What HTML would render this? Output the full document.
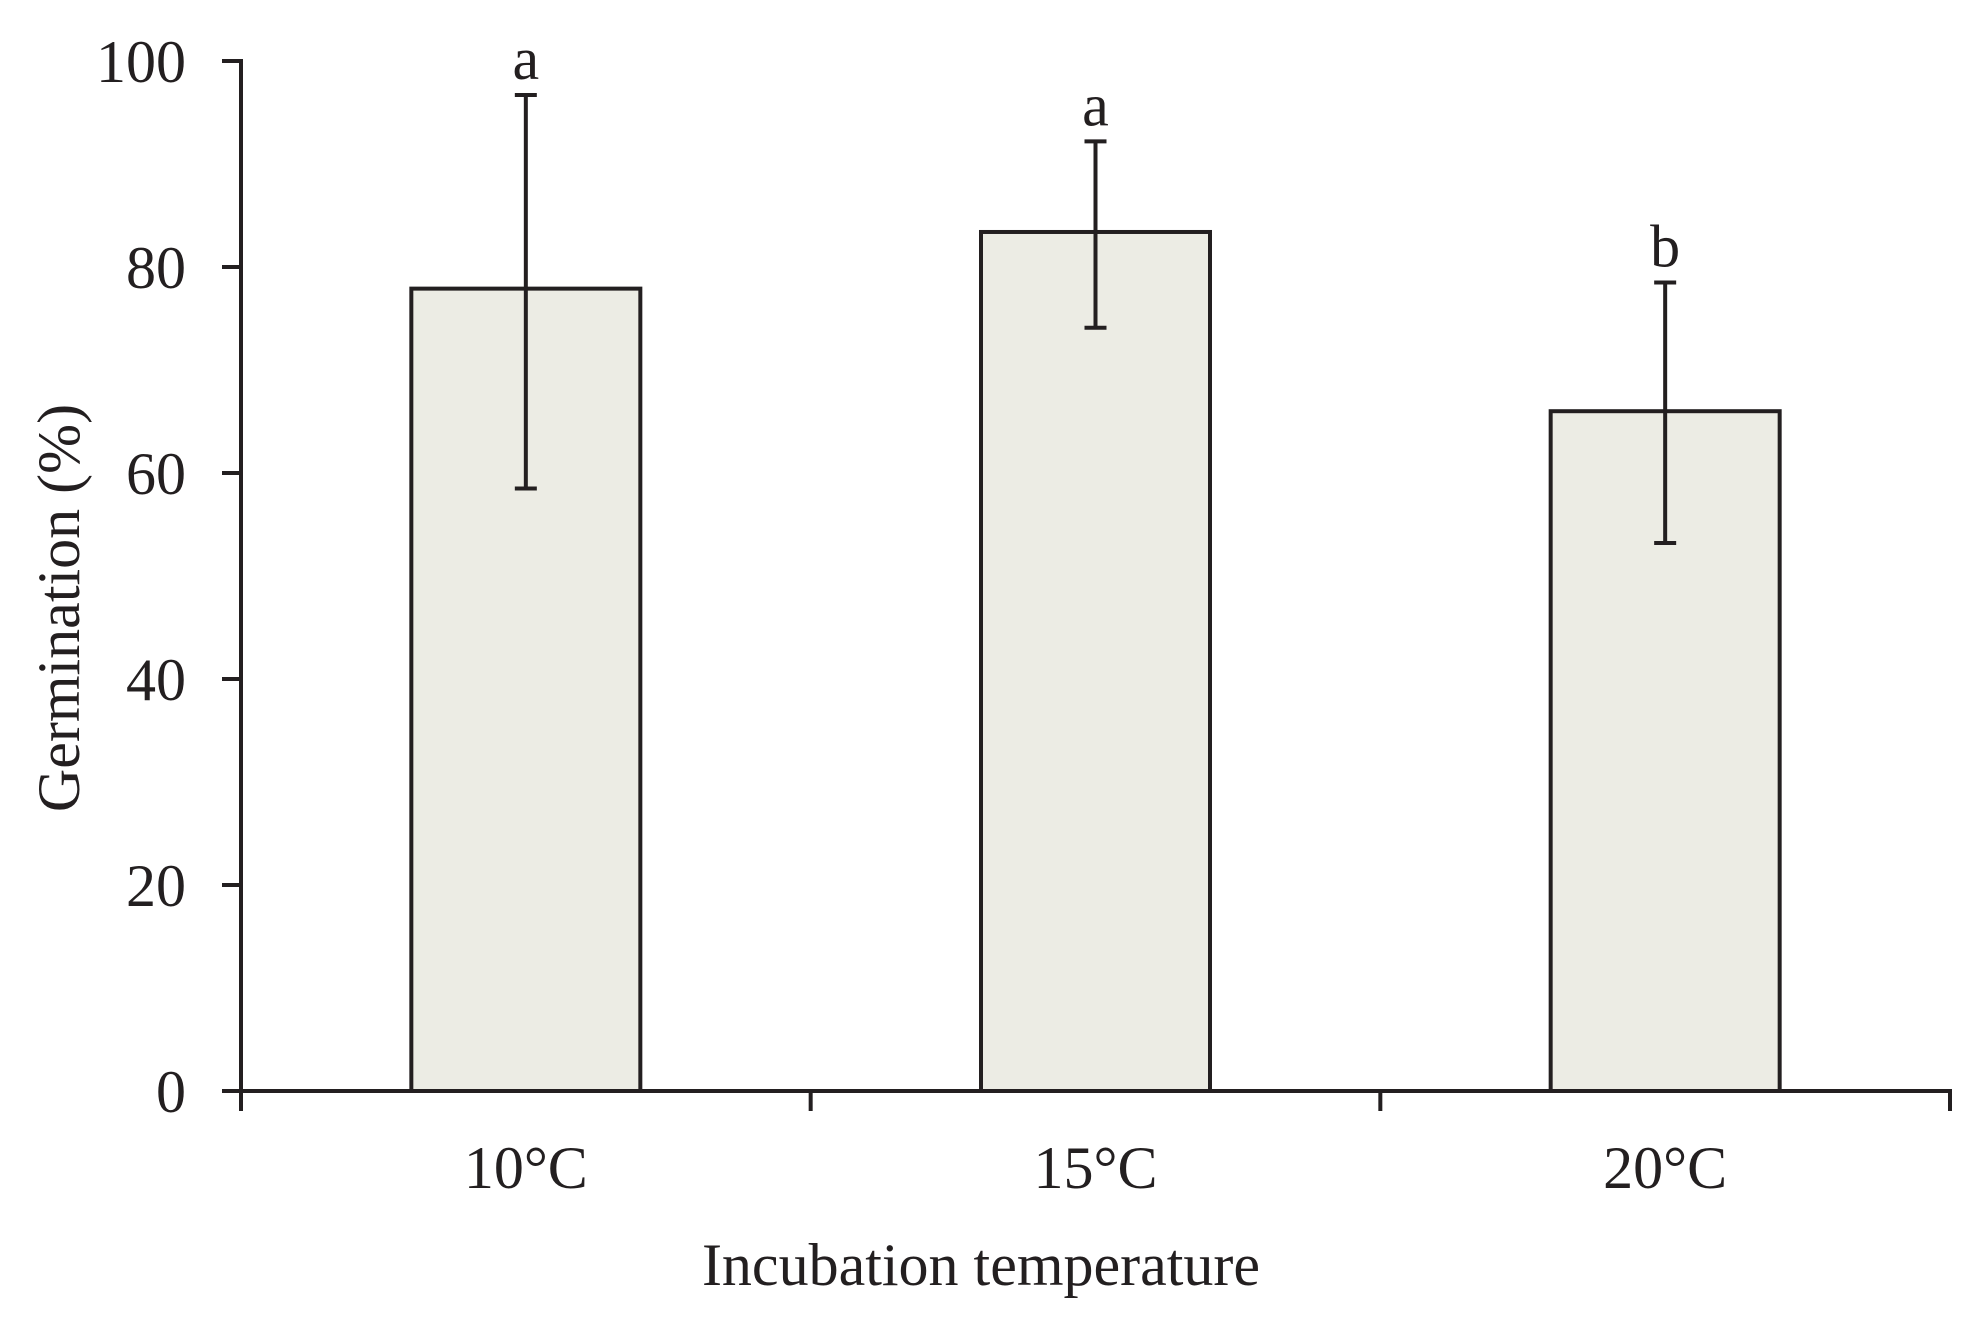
<!DOCTYPE html>
<html><head><meta charset="utf-8"><style>
html,body{margin:0;padding:0;background:#fff;}
svg{display:block;}
text{font-family:"Liberation Serif",serif;fill:#231f20;}
</style></head><body>
<svg id="chart" width="1979" height="1320" viewBox="0 0 1979 1320">
<g id="plot"></g>
</svg>
<script>
const categories = ["10°C","15°C","20°C"];
const means = [77.9, 83.4, 66.0];
const errHigh = [96.7, 92.2, 78.5];
const errLow = [58.5, 74.1, 53.2];
const sigLetters = ["a","a","b"];
const yTicks = [0,20,40,60,80,100];

const NS="http://www.w3.org/2000/svg";
const g=document.getElementById('plot');
const X0=241, X1=1950, Y0=1091, Y100=61;
const y=v=>Y0-(Y0-Y100)*v/100;
const slot=(X1-X0)/categories.length;
const xc=i=>X0+slot*(i+0.5);
const BW=229, C="#231f20";
function el(t,a){const e=document.createElementNS(NS,t);for(const k in a)e.setAttribute(k,a[k]);g.appendChild(e);return e;}

categories.forEach((c,i)=>{
  const r=el('rect',{x:xc(i)-BW/2,y:y(means[i]),width:BW,height:Y0-y(means[i]),fill:'#ecece4',stroke:C,'stroke-width':4});
  
  
  const ex=xc(i);
  const l=el('line',{x1:ex,x2:ex,y1:y(errHigh[i]),y2:y(errLow[i]),stroke:C,'stroke-width':4});
  
  
  [errHigh[i],errLow[i]].forEach(v=>{
    const cap=el('line',{x1:ex-11,x2:ex+11,y1:y(v),y2:y(v),stroke:C,'stroke-width':4});
    
    
  });
  const t=el('text',{x:ex,y:y(errHigh[i])-16,'font-size':60,'text-anchor':'middle'});
  t.textContent=sigLetters[i];
  
  
  const xl=el('text',{x:ex,y:1188,'font-size':60,'text-anchor':'middle'});
  xl.textContent=c;
  
  
});
const ya=el('line',{x1:X0,x2:X0,y1:Y100-2,y2:Y0+2,stroke:C,'stroke-width':4});


const xa=el('line',{x1:X0-19,x2:X1+2,y1:Y0,y2:Y0,stroke:C,'stroke-width':4});


yTicks.forEach(v=>{
  const tk=el('line',{x1:X0-19,x2:X0,y1:y(v),y2:y(v),stroke:C,'stroke-width':4});
  
  
  const t=el('text',{x:186,y:y(v)+21,'font-size':60,'text-anchor':'end'});
  t.textContent=v;
  
  
});
for(let i=0;i<=categories.length;i++){
  const xx=X0+slot*i;
  const tk=el('line',{x1:xx,x2:xx,y1:Y0,y2:Y0+20,stroke:C,'stroke-width':4});
  
  
}
const yt=el('text',{x:0,y:0,'font-size':60,'text-anchor':'middle',transform:'translate(79,608) rotate(-90)'});
yt.textContent='Germination (%)';


const xt=el('text',{x:981,y:1285,'font-size':60,'text-anchor':'middle'});
xt.textContent='Incubation temperature';


</script>
</body></html>
